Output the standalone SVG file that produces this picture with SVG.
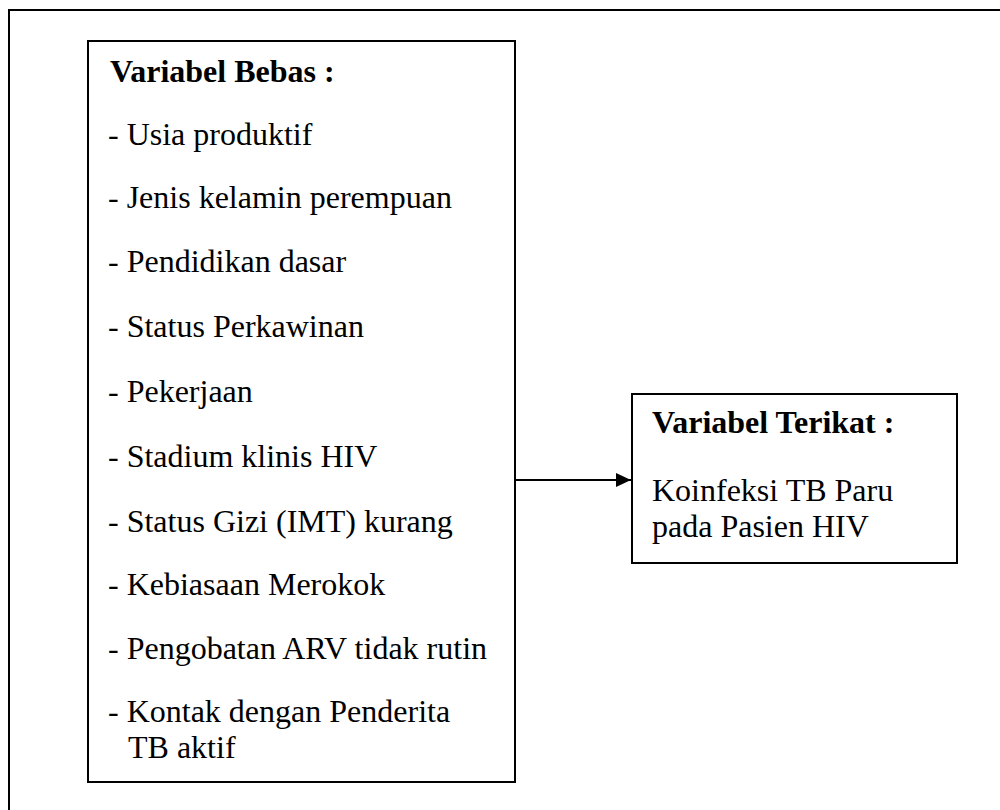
<svg xmlns="http://www.w3.org/2000/svg" width="1000" height="810" viewBox="0 0 1000 810">
  <style>
    .box { fill: #ffffff; stroke: #000000; stroke-width: 2; }
    .t { font-family: "Liberation Serif", "Times New Roman", serif; font-size: 32px; fill: #000000; }
    .b { font-weight: bold; }
    .conn { stroke: #000000; stroke-width: 2; fill: none; }
  </style>
  <defs>
    <marker id="arrow" markerWidth="16" markerHeight="14" refX="15" refY="7" orient="auto" markerUnits="userSpaceOnUse">
      <path d="M0,0 L15,7 L0,14 Z" fill="#000000"/>
    </marker>
  </defs>
  <rect x="0" y="0" width="1000" height="810" fill="#ffffff"/>
  <g id="frame">
    <rect x="9" y="10" width="1010" height="830" class="box"/>
  </g>
  <g id="variabel-bebas">
    <rect x="88" y="41" width="427" height="741" class="box"/>
    <text class="t b" x="110" y="82">Variabel Bebas :</text>
    <text class="t" x="108" y="145">- Usia produktif</text>
    <text class="t" x="108" y="208">- Jenis kelamin perempuan</text>
    <text class="t" x="108" y="272">- Pendidikan dasar</text>
    <text class="t" x="108" y="337">- Status Perkawinan</text>
    <text class="t" x="108" y="402">- Pekerjaan</text>
    <text class="t" x="108" y="467">- Stadium klinis HIV</text>
    <text class="t" x="108" y="532">- Status Gizi (IMT) kurang</text>
    <text class="t" x="108" y="595">- Kebiasaan Merokok</text>
    <text class="t" x="108" y="659">- Pengobatan ARV tidak rutin</text>
    <text class="t" x="108" y="722">- Kontak dengan Penderita</text>
    <text class="t" x="128" y="758">TB aktif</text>
  </g>
  <g id="variabel-terikat">
    <rect x="632" y="394" width="325" height="169" class="box"/>
    <text class="t b" x="652" y="433">Variabel Terikat :</text>
    <text class="t" x="652" y="501">Koinfeksi TB Paru</text>
    <text class="t" x="652" y="537">pada Pasien HIV</text>
  </g>
  <g id="connectors">
    <line x1="515" y1="480" x2="631" y2="480" class="conn" marker-end="url(#arrow)"/>
  </g>
</svg>
